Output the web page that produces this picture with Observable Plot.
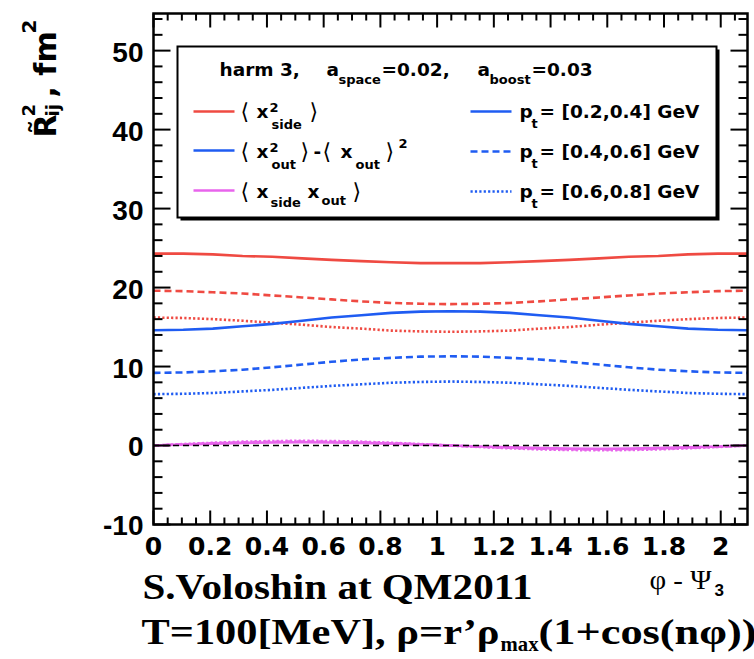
<!DOCTYPE html>
<html><head><meta charset="utf-8">
<script src="https://cdn.jsdelivr.net/npm/d3@7"></script>
<script src="https://cdn.jsdelivr.net/npm/@observablehq/plot@0.6"></script>
<style>body{margin:0;background:#fff}</style>
</head><body><div id="chart"></div>
<script>
// ---- data ----
const xs = [0, 0.105, 0.209, 0.314, 0.419, 0.524, 0.628, 0.733, 0.838, 0.942, 1.047, 1.152, 1.257, 1.361, 1.466, 1.571, 1.676, 1.780, 1.885, 1.990, 2.094];
// <x_side^2> for three pt bins
const sidePt1 = [24.3, 24.3, 24.2, 24.0, 23.9, 23.7, 23.5, 23.35, 23.2, 23.1, 23.1, 23.1, 23.2, 23.35, 23.5, 23.7, 23.9, 24.0, 24.2, 24.3, 24.3];
const sidePt2 = [19.6, 19.55, 19.4, 19.25, 19.0, 18.75, 18.5, 18.25, 18.05, 17.95, 17.9, 17.95, 18.05, 18.25, 18.5, 18.75, 19.0, 19.25, 19.4, 19.55, 19.6];
const sidePt3 = [16.2, 16.15, 16.0, 15.8, 15.55, 15.3, 15.0, 14.8, 14.55, 14.45, 14.4, 14.45, 14.55, 14.8, 15.0, 15.3, 15.55, 15.8, 16.0, 16.15, 16.2];
// <x_out^2> - <x_out>^2
const outPt1 = [14.6, 14.65, 14.8, 15.1, 15.4, 15.8, 16.2, 16.5, 16.8, 16.95, 17.0, 16.95, 16.8, 16.5, 16.2, 15.8, 15.4, 15.1, 14.8, 14.65, 14.6];
const outPt2 = [9.2, 9.25, 9.4, 9.6, 9.9, 10.25, 10.6, 10.9, 11.1, 11.25, 11.3, 11.25, 11.1, 10.9, 10.6, 10.25, 9.9, 9.6, 9.4, 9.25, 9.2];
const outPt3 = [6.5, 6.55, 6.65, 6.85, 7.05, 7.3, 7.55, 7.75, 7.95, 8.05, 8.1, 8.05, 7.95, 7.75, 7.55, 7.3, 7.05, 6.85, 6.65, 6.55, 6.5];
// <x_side x_out>
const soPt1 = [0, 0.12, 0.24, 0.33, 0.39, 0.41, 0.39, 0.33, 0.24, 0.12, 0, -0.12, -0.24, -0.33, -0.39, -0.41, -0.39, -0.33, -0.24, -0.12, 0];
const soPt2 = [0, 0.15, 0.29, 0.4, 0.48, 0.5, 0.48, 0.4, 0.29, 0.15, 0, -0.15, -0.29, -0.4, -0.48, -0.5, -0.48, -0.4, -0.29, -0.15, 0];
const soPt3 = [0, 0.19, 0.35, 0.49, 0.57, 0.6, 0.57, 0.49, 0.35, 0.19, 0, -0.19, -0.35, -0.49, -0.57, -0.6, -0.57, -0.49, -0.35, -0.19, 0];
const zeroLine = [0];

const xMajor = [0, 0.2, 0.4, 0.6, 0.8, 1.0, 1.2, 1.4, 1.6, 1.8, 2.0];
const xTickLabels = ["0", "0.2", "0.4", "0.6", "0.8", "1", "1.2", "1.4", "1.6", "1.8", "2"];
const xMinor = [0.05, 0.1, 0.15, 0.25, 0.3, 0.35, 0.45, 0.5, 0.55, 0.65, 0.7, 0.75, 0.85, 0.9, 0.95, 1.05, 1.1, 1.15, 1.25, 1.3, 1.35, 1.45, 1.5, 1.55, 1.65, 1.7, 1.75, 1.85, 1.9, 1.95, 2.05];
const yMajor = [-10, 0, 10, 20, 30, 40, 50];
const yTickLabels = ["-10", "0", "10", "20", "30", "40", "50"];
const yMinor = [-8, -6, -4, -2, 2, 4, 6, 8, 12, 14, 16, 18, 22, 24, 26, 28, 32, 34, 36, 38, 42, 44, 46, 48, 52, 54];

const ptLabels = ["= [0.2,0.4] GeV", "= [0.4,0.6] GeV", "= [0.6,0.8] GeV"];

// ---- styling ----
const RED = "#ef4a42", BLUE = "#1f5cf2", MAG = "#e864ec";
const DASH = ["", "7,4", "2.2,2.2"];
const XMAX = 2.0944, YMIN = -10, YMAX = 54.7;
const W = 754, H = 659, ML = 153, MR = 7, MT = 13, MB = 135;

const series = [
  {y: sidePt1, stroke: RED, dash: DASH[0]}, {y: sidePt2, stroke: RED, dash: DASH[1]}, {y: sidePt3, stroke: RED, dash: DASH[2]},
  {y: outPt1, stroke: BLUE, dash: DASH[0]}, {y: outPt2, stroke: BLUE, dash: DASH[1]}, {y: outPt3, stroke: BLUE, dash: DASH[2]},
  {y: soPt1, stroke: MAG, dash: DASH[0]}, {y: soPt2, stroke: MAG, dash: DASH[1]}, {y: soPt3, stroke: MAG, dash: DASH[2]}
];

const seg = {draw(ctx, l) { ctx.moveTo(0, 0); ctx.lineTo(0, -l); }};
const tk = {anchor: "start", shape: seg, stroke: "black", strokeWidth: 2, strokeLinecap: "butt"};

const SANS = "DejaVu Sans";
function label(px, py, text, o = {}) {
  return Plot.text([text], {
    frameAnchor: "top-left", dx: px - ML, dy: py - MT, text: d => d,
    textAnchor: o.anchor || "start", lineAnchor: "bottom",
    fontSize: o.size || 18.5, fontFamily: o.font || SANS, fontWeight: o.weight || "bold",
    fill: "black", rotate: o.rotate || 0
  });
}
function legLine(x1, x2, y, stroke, dash) {
  return Plot.vector([0], {frameAnchor: "top-left", dx: x1 - ML, dy: y - MT, rotate: 90, length: x2 - x1,
    anchor: "start", shape: seg, stroke, strokeDasharray: dash, strokeWidth: 2.4, strokeLinecap: "butt"});
}

const SUB = 13;
const BR = {size: 22, weight: "normal"};
const legend = [
  Plot.frame({insetLeft: 27, insetTop: 36, insetRight: 28, insetBottom: 304, fill: "black"}),
  Plot.frame({insetLeft: 24, insetTop: 33, insetRight: 31, insetBottom: 307, fill: "white", stroke: "black", strokeWidth: 2}),
  // header
  label(219, 75, "harm 3,"),
  label(326, 75, "a"), label(338, 83, "space", {size: SUB}), label(381, 75, "=0.02,"),
  label(477, 75, "a"), label(489, 83, "boost", {size: SUB}), label(531, 75, "=0.03"),
  // left column
  legLine(193, 234, 111, RED, ""), legLine(193, 234, 150, BLUE, ""), legLine(193, 234, 190, MAG, ""),
  label(240, 118, "⟨", BR), label(256, 117, "x"), label(269, 111, "2", {size: SUB}), label(271, 128, "side", {size: SUB}), label(309, 118, "⟩", BR),
  label(240, 158, "⟨", BR), label(256, 157, "x"), label(269, 151, "2", {size: SUB}), label(271, 168, "out", {size: SUB}), label(300, 158, "⟩", BR),
  label(313, 157, "-"), label(322, 158, "⟨", BR), label(340, 157, "x"), label(355, 168, "out", {size: SUB}), label(385, 158, "⟩", BR), label(398, 147, "2", {size: SUB}),
  label(240, 198, "⟨", BR), label(256, 197, "x"), label(270, 206, "side", {size: SUB}), label(307, 197, "x"), label(321, 204, "out", {size: SUB}), label(352, 198, "⟩", BR),
  // right column
  legLine(470, 511, 111, BLUE, DASH[0]), legLine(470, 511, 151, BLUE, DASH[1]), legLine(470, 511, 191, BLUE, DASH[2]),
  ...[117, 157, 197].flatMap((b, i) => [label(519, b, "p"), label(531, b + 10, "t", {size: SUB}), label(539, b, ptLabels[i])])
];

const SERIF = "Liberation Serif";
const texts = [
  // y axis title
  label(55, 137, "R\u0303", {rotate: -90, size: 30}),
  label(34, 116, "2", {rotate: -90, size: 18}),
  label(58, 116, "ij", {rotate: -90, size: 18}),
  label(55, 97, ", fm", {rotate: -90, size: 30}),
  label(35, 33, "2", {rotate: -90, size: 20}),
  // x axis title
  label(649, 588, "φ - Ψ", {font: SERIF, size: 28, weight: "normal"}),
  label(714, 595, "3", {font: "Liberation Sans", size: 17}),
  // captions
  label(142, 598, "S.Voloshin at QM2011", {font: SERIF, size: 35}),
  label(141, 643, "T=100[MeV], ρ=r’ρ", {font: SERIF, size: 35}),
  label(500, 650, "max", {font: SERIF, size: 22}),
  label(538, 643, "(1+cos(nφ))", {font: SERIF, size: 35})
];

const svg = Plot.plot({
  width: W, height: H, marginLeft: ML, marginRight: MR, marginTop: MT, marginBottom: MB,
  style: {background: "white", color: "black"},
  x: {domain: [0, XMAX], axis: null},
  y: {domain: [YMIN, YMAX], axis: null},
  marks: [
    ...series.map(s => Plot.line(xs.map((x, i) => ({x, y: s.y[i]})), {x: "x", y: "y", stroke: s.stroke, strokeDasharray: s.dash, strokeWidth: 2.6, strokeLinecap: "butt"})),
    Plot.ruleY(zeroLine, {stroke: "black", strokeWidth: 1.5, strokeDasharray: "6,4"}),
    Plot.frame({stroke: "black", strokeWidth: 2.5}),
    Plot.vector(xMajor, {...tk, x: d => d, y: YMIN, length: 14, rotate: 0}),
    Plot.vector(xMinor, {...tk, x: d => d, y: YMIN, length: 7, rotate: 0}),
    Plot.vector(xMajor, {...tk, x: d => d, y: YMAX, length: 14, rotate: 180}),
    Plot.vector(xMinor, {...tk, x: d => d, y: YMAX, length: 7, rotate: 180}),
    Plot.vector(yMajor, {...tk, x: 0, y: d => d, length: 17, rotate: 90}),
    Plot.vector(yMinor, {...tk, x: 0, y: d => d, length: 9, rotate: 90}),
    Plot.vector(yMajor, {...tk, x: XMAX, y: d => d, length: 17, rotate: -90}),
    Plot.vector(yMinor, {...tk, x: XMAX, y: d => d, length: 9, rotate: -90}),
    Plot.text(yMajor, {x: 0, y: d => d, text: (d, i) => yTickLabels[i], dx: -10, dy: 2, textAnchor: "end", lineAnchor: "middle",
      fontSize: 28, fontWeight: "bold", fontFamily: "Liberation Sans"}),
    Plot.text(xMajor, {x: d => d, y: YMIN, text: (d, i) => xTickLabels[i], dy: 22, lineAnchor: "middle",
      fontSize: 25, fontWeight: "bold", fontFamily: SANS}),
    ...legend,
    ...texts
  ]
});

// stretch the wide ROOT-style caption glyphs to the reference widths
const stretch = {"S.Voloshin at QM2011": 390, "T=100[MeV], ρ=r’ρ": 358, "max": 38, "(1+cos(nφ))": 218, "φ - Ψ": 62};
d3.select(svg).selectAll("text").each(function () {
  const L = stretch[this.textContent];
  if (L) { this.setAttribute("textLength", L); this.setAttribute("lengthAdjust", "spacingAndGlyphs"); }
});
document.getElementById("chart").appendChild(svg);
</script>
</body></html>
